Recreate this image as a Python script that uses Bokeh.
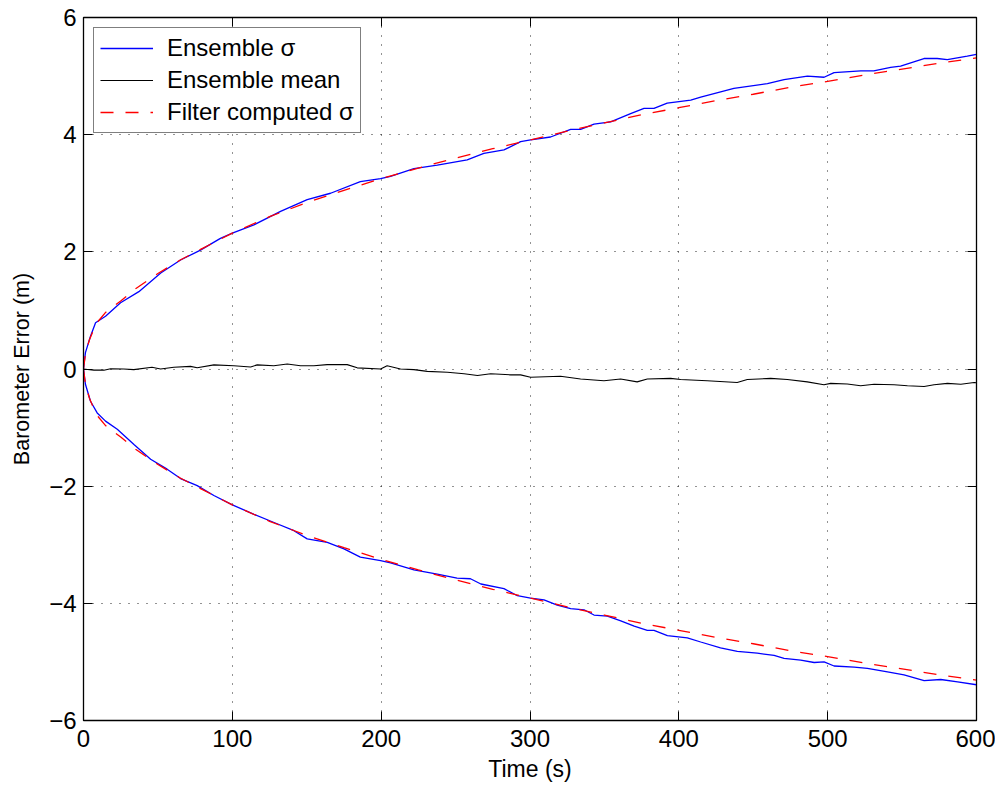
from bokeh.plotting import figure
from bokeh.models import Range1d, LinearAxis, FixedTicker, Legend, LegendItem, CustomLabelingPolicy
from bokeh.embed import file_html
from bokeh.resources import INLINE
import numpy as np

# ---------------- data ----------------
x_ticks = [0, 100, 200, 300, 400, 500, 600]
y_ticks = [-6, -4, -2, 0, 2, 4, 6]
y_tick_labels = ["\u22126", "\u22124", "\u22122", "0", "2", "4", "6"]

t_sig_up = [0, 1.3, 4.7, 8.1, 14.8, 24.9, 37.2, 51.9, 65.2, 78.6, 92, 100, 114.5,
            132.4, 150.3, 166, 186, 199.6, 206.3, 222, 237.7, 257.8, 269, 282.5,
            293.7, 300.4, 313.8, 327.3, 334, 343, 354.2, 367.6, 376.6, 383.3,
            392.2, 408, 414.7, 437, 459.5, 470.7, 486.4, 497.6, 504.3, 522.2,
            531, 542.3, 549, 564.7, 573.6, 580.4, 593.8, 600]
sig_up = [0, 0.28, 0.56, 0.79, 0.90, 1.13, 1.32, 1.64, 1.86, 2.03, 2.23, 2.32, 2.46,
          2.69, 2.89, 3.00, 3.20, 3.25, 3.29, 3.42, 3.48, 3.57, 3.68, 3.74,
          3.88, 3.91, 3.96, 4.09, 4.09, 4.18, 4.22, 4.36, 4.45, 4.45,
          4.54, 4.59, 4.64, 4.79, 4.87, 4.94, 5.00, 4.98, 5.06, 5.09,
          5.09, 5.15, 5.17, 5.30, 5.30, 5.28, 5.34, 5.37]

t_sig_lo = [0, 1.3, 4.7, 9.2, 14.8, 22.7, 33.9, 45.1, 56.2, 65.2, 76.4, 87.6, 100,
            114.6, 128, 141.4, 150.3, 163.8, 175, 186, 199.6, 206.3, 222, 237.7,
            251, 260, 267, 282.5, 291.5, 300.4, 309.4, 318.3, 327.3, 336.3, 343,
            352, 361, 370, 378.8, 383.3, 392.3, 405.7, 414.7, 428, 439.3, 452.7,
            464, 470.7, 481.9, 490.9, 497.6, 504.3, 517.8, 526.7, 540.2, 551.3,
            564.8, 576, 587.3, 600]
sig_lo = [0, -0.26, -0.55, -0.75, -0.89, -1.03, -1.29, -1.54, -1.71, -1.87, -1.99, -2.16, -2.32,
          -2.48, -2.62, -2.76, -2.90, -2.96, -3.07, -3.21, -3.27, -3.31, -3.43, -3.50,
          -3.57, -3.58, -3.67, -3.75, -3.87, -3.91, -3.94, -4.03, -4.09, -4.11, -4.20,
          -4.22, -4.30, -4.39, -4.46, -4.46, -4.55, -4.59, -4.66, -4.76, -4.82, -4.85,
          -4.89, -4.94, -4.97, -5.01, -5.00, -5.07, -5.09, -5.11, -5.17, -5.22,
          -5.32, -5.30, -5.34, -5.39]

t_mean = [0, 7, 13.7, 18.2, 27, 33.8, 46, 51.8, 60.7, 71.9, 76.4, 87.6, 101, 112.3,
          116.7, 127.9, 136.9, 145.8, 154.8, 163.7, 177.2, 183.9, 199.6, 204, 213,
          222, 231, 244.5, 255.7, 264.7, 273.6, 287, 293.7, 300.4, 320.5, 334,
          349.7, 360.9, 372, 378.8, 394.5, 401.2, 419, 439.2, 446, 461.7, 472.9,
          486.3, 497.5, 502, 513.2, 522.2, 531.2, 544.6, 553.6, 564.8, 571.5,
          580.5, 589.5, 598.4, 600]
ens_mean = [0, -0.02, -0.02, 0.005, 0, -0.01, 0.03, 0, 0.03, 0.045, 0.02, 0.07, 0.055, 0.035,
            0.07, 0.055, 0.085, 0.055, 0.055, 0.075, 0.075, 0.02, 0.0, 0.055, 0,
            -0.01, -0.04, -0.055, -0.08, -0.11, -0.08, -0.10, -0.10, -0.14, -0.125, -0.17,
            -0.20, -0.17, -0.22, -0.17, -0.16, -0.18, -0.20, -0.23, -0.18, -0.16, -0.18,
            -0.22, -0.27, -0.245, -0.255, -0.285, -0.26, -0.27, -0.285, -0.30, -0.27,
            -0.245, -0.26, -0.23, -0.235]

t_filt = [0, 1, 2, 4, 7, 10, 15, 20, 25, 35, 50, 65, 80, 100, 125, 150, 175, 200,
          225, 250, 275, 300, 325, 350, 375, 400, 425, 450, 475, 500, 525, 550, 575, 600]
filt_sig = [0, 0.20, 0.33, 0.50, 0.68, 0.82, 0.97, 1.07, 1.16, 1.37, 1.63, 1.86, 2.06, 2.32,
            2.60, 2.84, 3.05, 3.25, 3.43, 3.60, 3.76, 3.91, 4.06, 4.20, 4.34, 4.46, 4.58,
            4.69, 4.81, 4.91, 5.02, 5.12, 5.22, 5.31]

legend_labels = ["Ensemble \u03c3", "Ensemble mean", "Filter computed \u03c3"]

# ---------------- figure ----------------
FONT = "Liberation Sans"

p = figure(width=995, height=784, x_range=Range1d(0, 600), y_range=Range1d(-6, 6),
           output_backend="svg", toolbar_location=None,
           min_border_left=83, min_border_right=19, min_border_top=17, min_border_bottom=62,
           background_fill_color="white", border_fill_color="white")
p.outline_line_color = "black"
p.outline_line_width = 1.3

for ax in (p.xaxis[0], p.yaxis[0]):
    ax.major_tick_in = 9
    ax.major_tick_out = 0
    ax.minor_tick_in = 0
    ax.minor_tick_out = 0
    ax.axis_line_color = "black"
    ax.major_tick_line_color = "black"
    ax.major_label_text_font = FONT
    ax.major_label_text_font_size = "24px"
    ax.major_label_text_color = "black"
    ax.axis_label_text_font = FONT
    ax.axis_label_text_font_style = "normal"
    ax.axis_label_text_color = "black"

p.xaxis[0].ticker = FixedTicker(ticks=x_ticks)
p.yaxis[0].ticker = FixedTicker(ticks=y_ticks)
p.yaxis[0].major_label_overrides = {t: s for t, s in zip(y_ticks, y_tick_labels)}
p.xaxis[0].axis_label = "Time (s)"
p.yaxis[0].axis_label = "Barometer Error (m)"
p.xaxis[0].axis_label_text_font_size = "23px"
p.yaxis[0].axis_label_text_font_size = "21.5px"
p.xaxis[0].major_label_standoff = 9
p.xaxis[0].axis_label_standoff = 6
p.yaxis[0].major_label_standoff = 7
p.yaxis[0].axis_label_standoff = 12

no_labels = CustomLabelingPolicy(code="""
if (indices != null && typeof indices.unset === "function") {
    for (let i = 0; i < indices.size; i++) { indices.unset(i) }
    return indices
}
return new Set()
""")

for loc, tick in (("right", y_ticks), ("above", x_ticks)):
    ax = LinearAxis(ticker=FixedTicker(ticks=tick), major_tick_in=9, major_tick_out=0,
                    minor_tick_in=0, minor_tick_out=0, major_label_text_font_size="0px",
                    major_label_standoff=0, axis_line_color="black",
                    major_tick_line_color="black", major_label_policy=no_labels)
    p.add_layout(ax, loc)

for g in (p.xgrid[0], p.ygrid[0]):
    g.grid_line_color = "black"
    g.grid_line_width = 1
    g.grid_line_dash = "1 8"
    g.grid_line_alpha = 0.85
p.xgrid[0].ticker = FixedTicker(ticks=x_ticks)
p.ygrid[0].ticker = FixedTicker(ticks=y_ticks)

r_up = p.line(t_sig_up, sig_up, line_color="#0000ff", line_width=1.3)
r_lo = p.line(t_sig_lo, sig_lo, line_color="#0000ff", line_width=1.3)
r_mean = p.line(t_mean, ens_mean, line_color="black", line_width=1.1)
filt_neg = list(-np.array(filt_sig))
r_f_up = p.line(t_filt, filt_sig, line_color="#ff0000", line_width=1.3, line_dash="13 12")
r_f_lo = p.line(t_filt, filt_neg, line_color="#ff0000", line_width=1.3, line_dash="13 12")

legend = Legend(items=[LegendItem(label=legend_labels[0], renderers=[r_up]),
                       LegendItem(label=legend_labels[1], renderers=[r_mean]),
                       LegendItem(label=legend_labels[2], renderers=[r_f_up])],
                location="top_left", margin=10, padding=6, spacing=4,
                glyph_width=53, glyph_height=26, label_height=26, label_standoff=14,
                label_text_font=FONT, label_text_font_size="24px", label_text_color="black",
                border_line_color="black", border_line_width=1.5,
                background_fill_color="white", background_fill_alpha=1)
p.add_layout(legend)

open("out.html", "w").write(file_html(p, INLINE))
